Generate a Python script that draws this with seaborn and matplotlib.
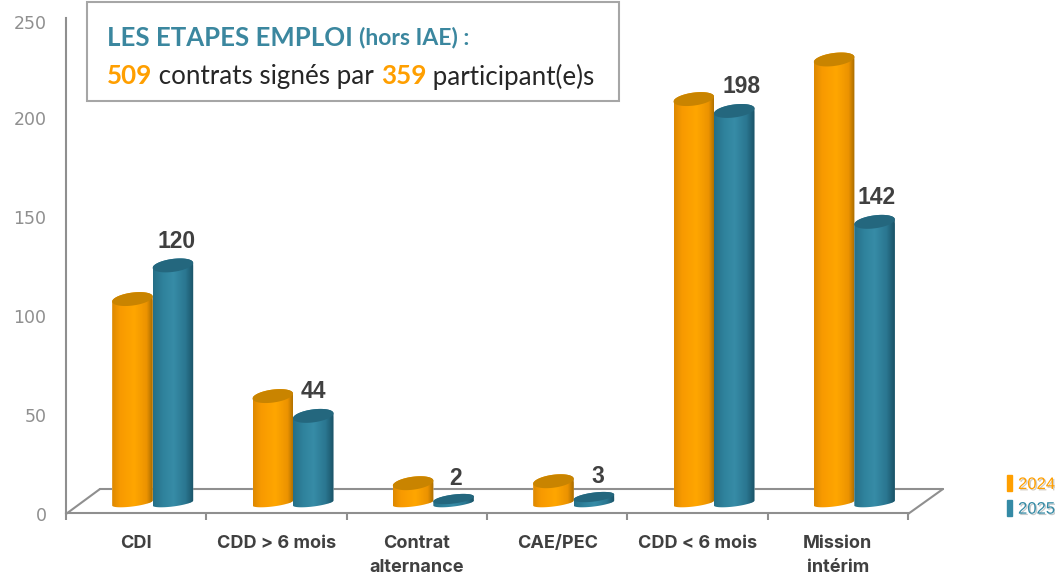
import matplotlib.patheffects as pe
import matplotlib.pyplot as plt
import numpy as np
import pandas as pd
import seaborn as sns
from matplotlib.colors import LinearSegmentedColormap
from matplotlib.lines import Line2D
from matplotlib.patches import Polygon, Rectangle
from matplotlib.transforms import ScaledTranslation

categories = ['CDI', 'CDD > 6 mois', 'Contrat\nalternance', 'CAE/PEC', 'CDD < 6 mois', 'Mission\nintérim']
years = ['2024', '2025']
values_2024 = [103, 54, 10, 11, 204, 224]
values_2025 = [120, 44, 2, 3, 198, 142]
y_ticks = [0, 50, 100, 150, 200, 250]

ORANGE = '#FF9F00'
TEAL = '#348AA5'
GRAY = '#8F8F8F'
DARK = '#404040'

W, H = 1055, 577
PX_PER_UNIT = 495 / 250
# la base des cylindres flotte au-dessus du zero de l'axe (effet 3D)
BASE = 10 / PX_PER_UNIT
SHIFT = 16.5 / (842 / 6)

sns.set_theme(style="white")
plt.rcParams['font.family'] = ['Inter', 'DejaVu Sans']

df = pd.DataFrame({
    'categorie': categories * 2,
    'annee': [years[0]] * 6 + [years[1]] * 6,
    'valeur': values_2024 + values_2025,
})

fig = plt.figure(figsize=(W / 100, H / 100), dpi=100, facecolor='white')
ax = fig.add_axes([66 / W, (H - 513) / H, 842 / W, 495 / H])
ax.patch.set_alpha(0)

sns.barplot(data=df, x='categorie', y='valeur', hue='annee', order=categories, hue_order=years,
            palette=[ORANGE, TEAL], width=0.577, gap=0, dodge=True, legend=False, ax=ax)

xlim = (-0.5 - SHIFT, 5.5 - SHIFT)
ylim = (-BASE, 250 - BASE)

# Ombrage horizontal et couvercle des cylindres
cmaps = [
    LinearSegmentedColormap.from_list('o', [(0, '#DD8900'), (0.2, '#F89A00'), (0.55, '#FFA600'), (0.85, '#EC9300'), (1, '#A66B00')]),
    LinearSegmentedColormap.from_list('t', [(0, '#256F87'), (0.25, '#2F829C'), (0.5, '#378CA7'), (0.8, '#2A7690'), (1, '#1A5266')]),
]
cap_colors = ['#C98400', '#24677E']
gradient = np.linspace(0, 1, 128).reshape(1, -1)

for container, cmap, cap in zip(ax.containers, cmaps, cap_colors):
    for bar in container:
        x0, w, v = bar.get_x(), bar.get_width(), bar.get_height()
        cx = x0 + w / 2
        t = np.linspace(0, 2 * np.pi, 80)
        tilt = 2.5 / PX_PER_UNIT
        cap_b = (6.5 if v > 5 else 4.5) / PX_PER_UNIT
        low_b = 3.5 / PX_PER_UNIT
        top_x = cx + w / 2 * np.cos(t)
        top_y = v + cap_b * np.sin(t) + tilt * np.cos(t)
        t_low = np.linspace(np.pi, 2 * np.pi, 40)
        low_x = cx + w / 2 * np.cos(t_low)
        low_y = low_b * np.sin(t_low) + tilt * np.cos(t_low)
        t_up = np.linspace(0, np.pi, 40)
        up_x = cx + w / 2 * np.cos(t_up)
        up_y = v + cap_b * np.sin(t_up) + tilt * np.cos(t_up)
        outline = Polygon(np.column_stack([np.r_[low_x, up_x], np.r_[low_y, up_y]]),
                          transform=ax.transData, facecolor='none', edgecolor='none')
        ax.add_patch(outline)
        bar.set_clip_path(outline)
        im = ax.imshow(gradient, cmap=cmap, aspect='auto', zorder=2.5, interpolation='bilinear',
                       extent=(x0, x0 + w, -10, v + 10))
        im.set_clip_path(outline)
        ax.fill(top_x, top_y, color=cap, zorder=2.6, lw=0)

ax.set_xlim(*xlim)
ax.set_ylim(*ylim)

# Etiquettes de la serie 2025 (decalage horizontal en points, par etiquette)
label_dx = [2.5, 0, 1.5, 3, 5, 1.5]
for i, v in enumerate(values_2025):
    dy = 14.5 if v < 10 else 17.5
    ax.annotate(str(v), xy=(ax.containers[1][i].get_x() + 0.144, v), xytext=(label_dx[i], dy),
                textcoords='offset points', ha='center', va='center', fontsize=16.5, fontweight='bold',
                color=DARK, family='Liberation Sans', zorder=5)

# Axes
ax.set_yticks([t - BASE for t in y_ticks], [str(t) for t in y_ticks])
ax.set_xticks(np.arange(6) - SHIFT, categories)
ax.set_xticks(np.arange(7) - 0.5 - SHIFT, minor=True)
ax.tick_params(axis='y', length=5, width=1.5, color=GRAY, pad=9, labelsize=12.5, labelcolor=GRAY)
ax.tick_params(axis='x', which='major', length=0, pad=16, labelsize=13, labelcolor=DARK)
ax.tick_params(axis='x', which='minor', length=5, width=1.5, color=GRAY, bottom=True)
for lab in ax.get_xticklabels():
    lab.set_fontweight('bold')
    lab.set_linespacing(1.5)
for lab, t in zip(ax.get_yticklabels(), y_ticks):
    lab.set_family('DejaVu Sans')
    down = 4 if t == 250 else 1
    lab.set_transform(lab.get_transform() + ScaledTranslation(0, -down / 100, fig.dpi_scale_trans))
ax.set_xlabel('')
ax.set_ylabel('')
ax.grid(False)
sns.despine(ax=ax)
ax.spines['left'].set(color=GRAY, linewidth=1.5)
ax.spines['bottom'].set(color=GRAY, linewidth=1.5)


def px(x, y):
    return x / W, 1 - y / H


# Plancher en perspective
floor = [((66, 514), (100, 489)), ((100, 489), (943, 489)), ((943, 489), (908, 514))]
for a, b in floor:
    (xa, ya), (xb, yb) = px(*a), px(*b)
    fig.add_artist(Line2D([xa, xb], [ya, yb], color=GRAY, lw=1.5, zorder=-1, transform=fig.transFigure))

# Encadre de titre
x0, y1 = px(87, 101)
x1, y0 = px(619, 2)
fig.add_artist(Rectangle((x0, y1), x1 - x0, y0 - y1, facecolor='white', edgecolor='#A6A6A6', lw=1.5,
                         transform=fig.transFigure, zorder=3))

TITLE_TEAL = '#3B879F'
lines = [
    (36, [('LES ETAPES EMPLOI ', TITLE_TEAL, 18.5, 'bold'), ('(hors IAE) :', TITLE_TEAL, 16.5, 'bold')]),
    (74, [('509', ORANGE, 18.7, 'bold'), (' contrats signés par ', '#262626', 18.7, 'normal'),
          ('359', ORANGE, 18.7, 'bold'), (' participant(e)s', '#262626', 18.7, 'normal')]),
]
renderer = fig.canvas.get_renderer()
for y, pieces in lines:
    x = 107
    for txt, col, size, weight in pieces:
        fx, fy = px(x, y)
        t = fig.text(fx, fy, txt, color=col, fontsize=size, fontweight=weight, family='Lato',
                     ha='left', va='center_baseline', zorder=4)
        x += t.get_window_extent(renderer).width

# Legende
handles = [Rectangle((0, 0), 1, 1, color=ORANGE), Rectangle((0, 0), 1, 1, color=TEAL)]
leg = fig.legend(handles, years, loc='center left', bbox_to_anchor=(1007 / W, 1 - 496 / H), frameon=False,
                 labelcolor=[ORANGE, TEAL], prop={'family': 'Liberation Sans', 'size': 12},
                 handlelength=0.3, handleheight=1.1, handletextpad=0.36, labelspacing=0.48,
                 borderpad=0, borderaxespad=0)
for txt in leg.get_texts():
    txt.set_path_effects([pe.withSimplePatchShadow(offset=(1, -1), alpha=0.25)])

fig.savefig('out.png', dpi=100)
plt.close()
